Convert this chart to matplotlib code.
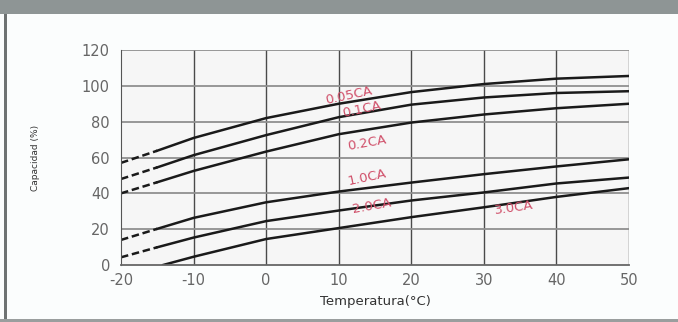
import matplotlib.pyplot as plt
from matplotlib.patches import Rectangle

# temperatures (C) where each curve was read
temps = [-20, -15, -10, 0, 10, 20, 30, 40, 50]
cap_005 = [57, 63.8, 70.9, 82, 90, 96.5, 101, 104, 105.5]
cap_01 = [48, 54.5, 61.3, 72.5, 82.5, 89.5, 93.5, 96, 97]
cap_02 = [40, 46.2, 52.5, 63.3, 73, 79.5, 84, 87.5, 90]
cap_10 = [14, 20.2, 26.3, 35, 41, 46, 50.7, 55, 59]
cap_20 = [4.3, 9.9, 15.3, 24.5, 30.4, 36, 40.5, 45.5, 48.8]
temps_30 = [-14.2, -10, 0, 10, 20, 30, 40, 50]
cap_30 = [0, 4.6, 14.5, 20.6, 26.7, 32.2, 38, 42.9]

labels = ["0.05CA", "0.1CA", "0.2CA", "1.0CA", "2.0CA", "3.0CA"]
label_x = [11.4, 13.2, 13.9, 13.9, 14.6, 34.2]
label_y = [94.5, 86.7, 68, 48.6, 33, 32]
label_rot = [12, 12, 10, 12, 10, 8]

x_ticks = [-20, -10, 0, 10, 20, 30, 40, 50]
x_tick_labels = ["-20", "-10", "0", "10", "20", "30", "40", "50"]
y_ticks = [0, 20, 40, 60, 80, 100, 120]

fig = plt.figure(figsize=(6.78, 3.22), dpi=100, facecolor="#fbfdfd")

# frame decorations of the original screenshot
fig.patches.append(Rectangle((0, 1 - 14 / 322), 1, 14 / 322, transform=fig.transFigure,
                             facecolor="#8e9595", edgecolor="none"))
fig.patches.append(Rectangle((4 / 678, 0), 3 / 678, 1 - 14 / 322, transform=fig.transFigure,
                             facecolor="#6e7272", edgecolor="none"))
fig.patches.append(Rectangle((0, 0), 1, 3 / 322, transform=fig.transFigure,
                             facecolor="#9a9e9e", edgecolor="none"))

ax = fig.add_axes([121 / 678, 1 - 265 / 322, 508 / 678, 215 / 322])
ax.set_facecolor("#f6f6f6")

for vals in [cap_005, cap_01, cap_02, cap_10, cap_20]:
    ax.plot(temps[:2], vals[:2], color="#1a1a1a", lw=1.8, ls=(0, (3, 1.5)))
    ax.plot(temps[1:], vals[1:], color="#1a1a1a", lw=1.8)
ax.plot(temps_30, cap_30, color="#1a1a1a", lw=1.8)

for t, x, y, r in zip(labels, label_x, label_y, label_rot):
    ax.text(x, y, t, color="#d0506a", fontsize=9.5, rotation=r,
            ha="center", va="center")

ax.set_xlim(-20, 50)
ax.set_ylim(0, 120)
ax.set_xticks(x_ticks, x_tick_labels)
ax.set_yticks(y_ticks)
ax.tick_params(length=0, labelsize=10.5, colors="#666666", pad=8)
ax.tick_params(axis="x", pad=6)

for x in x_ticks[1:]:
    ax.axvline(x, color="#4a4a4a", lw=1.0, zorder=0.5)
for y in y_ticks[1:]:
    ax.axhline(y, color="#8f8f8f", lw=1.3, zorder=0.5)
for side in ["top", "right"]:
    ax.spines[side].set_visible(False)
ax.spines["left"].set_color("#555555")
ax.spines["bottom"].set_color("#666666")
ax.spines["bottom"].set_linewidth(1.3)

ax.set_xlabel("Temperatura(°C)", fontsize=9.5, color="#333333", labelpad=5)
ax.set_ylabel("Capacidad (%)", fontsize=6.5, color="#333333", labelpad=30)

fig.savefig("out.png", dpi=100, facecolor=fig.get_facecolor())
